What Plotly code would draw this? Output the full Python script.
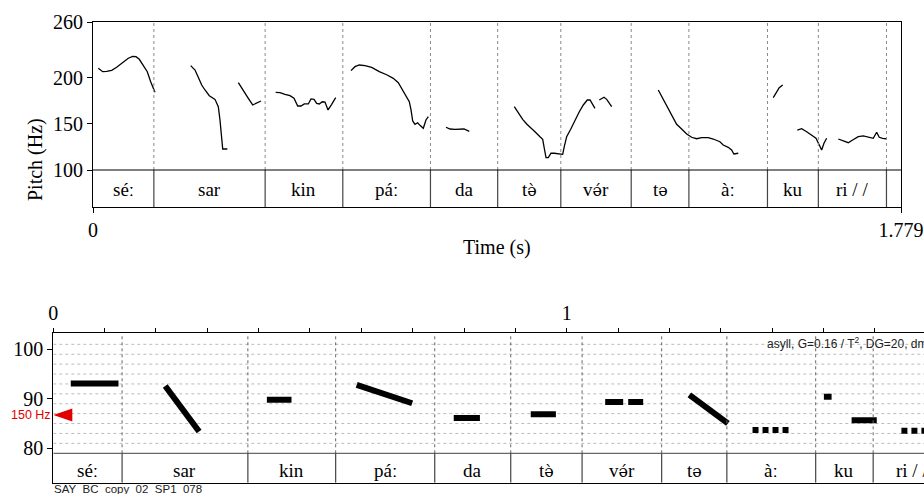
import math
import plotly.graph_objects as go

# ---------------- DATA ----------------
total_dur = 1.779
boundaries = [0.134, 0.379, 0.550, 0.743, 0.891, 1.030, 1.185, 1.312, 1.485, 1.597, 1.747]
syllables = ["séː", "sar", "kin", "páː", "da", "tə̀", "və́r", "tə", "àː", "ku", "ri / /", ""]

# raw F0 contour (Hz), one pair of arrays per voiced stretch
seg1_t = [0.0117, 0.0213, 0.0301, 0.0411, 0.0521, 0.0667, 0.0777, 0.0873, 0.0946, 0.1019, 0.1107, 0.1195, 0.1270, 0.1365]
seg1_hz = [210.0, 206.3, 206.7, 207.8, 211.0, 216.4, 220.8, 222.9, 222.5, 219.7, 213.5, 206.3, 195.5, 184.0]
seg2_t = [0.2151, 0.2246, 0.2318, 0.2393, 0.2466, 0.2561, 0.2686, 0.2759, 0.2796, 0.2834, 0.2856, 0.2958]
seg2_hz = [212.8, 208.1, 200.2, 191.9, 186.5, 180.3, 176.4, 168.4, 154.1, 136.0, 122.7, 122.7]
seg3_t = [0.3200, 0.3273, 0.3347, 0.3420, 0.3516, 0.3604, 0.3699]
seg3_hz = [194.4, 188.3, 183.6, 177.5, 170.3, 172.8, 174.6]
seg4_t = [0.4022, 0.4117, 0.4227, 0.4337, 0.4425, 0.4507, 0.4580, 0.4652, 0.4741, 0.4800, 0.4866,
          0.4925, 0.4982, 0.5049, 0.5108, 0.5174, 0.5255, 0.5343]
seg4_hz = [184.0, 183.6, 181.8, 180.3, 177.5, 169.2, 169.2, 171.4, 171.4, 176.8, 176.4,
           172.1, 171.4, 173.8, 173.5, 164.9, 171.0, 178.2]
seg5_t = [0.5680, 0.5768, 0.5863, 0.5988, 0.6136, 0.6303, 0.6466, 0.6611, 0.6722, 0.6832, 0.6964,
          0.7002, 0.7039, 0.7089, 0.7148, 0.7199, 0.7272, 0.7331, 0.7382]
seg5_hz = [207.4, 211.7, 213.5, 212.8, 211.0, 206.3, 203.0, 199.1, 194.4, 185.7, 173.8,
           164.9, 153.0, 149.4, 151.1, 148.3, 145.1, 154.1, 157.6]
seg6_t = [0.7772, 0.7860, 0.7970, 0.8080, 0.8168, 0.8285]
seg6_hz = [146.2, 144.3, 144.0, 144.3, 144.3, 141.8]
seg7_t = [0.9276, 0.9364, 0.9460, 0.9548, 0.9643, 0.9731, 0.9841, 0.9901, 0.9936, 0.9974, 1.0024,
          1.0084, 1.0156, 1.0244, 1.0341, 1.0376, 1.0429, 1.0517, 1.0612, 1.0707, 1.0795, 1.0883,
          1.0943, 1.1002, 1.1052]
seg7_hz = [168.4, 161.3, 154.8, 149.7, 145.7, 141.4, 136.0, 133.2, 123.5, 113.3, 113.3,
           118.1, 118.1, 117.3, 117.0, 125.2, 136.0, 144.0, 154.1, 163.0, 170.3, 175.7,
           175.7, 171.4, 166.7]
seg8_t = [1.1147, 1.1251, 1.1310, 1.1367, 1.1420]
seg8_hz = [175.7, 178.6, 176.4, 172.1, 168.4]
seg9_t = [1.2446, 1.2556, 1.2666, 1.2776, 1.2850, 1.2960, 1.3071, 1.3181, 1.3291, 1.3401, 1.3546,
          1.3656, 1.3803, 1.3876, 1.3986, 1.4060, 1.4111, 1.4207]
seg9_hz = [186.5, 176.4, 165.9, 154.8, 149.4, 144.3, 138.9, 135.4, 133.8, 134.9, 134.9,
           133.5, 130.6, 127.0, 124.5, 121.6, 117.3, 118.1]
seg10_t = [1.4978, 1.5052, 1.5109, 1.5185]
seg10_hz = [178.2, 184.6, 189.0, 191.9]
seg11_t = [1.5507, 1.5603, 1.5713, 1.5823, 1.5918, 1.5991, 1.6043, 1.6094, 1.6153]
seg11_hz = [143.2, 144.6, 141.4, 137.8, 134.3, 127.0, 121.6, 128.9, 134.3]
seg12_t = [1.6409, 1.6519, 1.6629, 1.6726, 1.6849, 1.6959, 1.7069, 1.7179, 1.7254, 1.7311, 1.7386, 1.7459]
seg12_hz = [133.5, 131.7, 129.5, 132.4, 136.0, 136.8, 135.4, 134.3, 140.8, 135.4, 134.3, 133.8]

# stylised pitch (semitones re 1 Hz)
styl_t_start = [0.034, 0.218, 0.416, 0.591, 0.780, 0.930, 1.075, 1.239, 1.362, 1.501, 1.555, 1.652]
styl_t_end   = [0.127, 0.284, 0.464, 0.699, 0.831, 0.979, 1.149, 1.314, 1.433, 1.516, 1.604, 1.730]
styl_st_start = [93.1, 92.6, 89.8, 92.8, 86.1, 86.9, 89.35, 90.8, 83.7, 90.4, 85.65, 83.55]
styl_st_end   = [93.1, 83.4, 89.8, 89.1, 86.1, 86.9, 89.35, 85.05, 83.7, 90.4, 85.65, 83.55]

ref_hz = 150
param_text = "asyll, G=0.16 / T<sup>2</sup>, DG=20, dmin=0.035"
file_label = "SAY_BC_copy_02_SP1_078"

# ---------------- STYLE / LAYOUT ----------------
W, H = 924, 494
SERIF = "Liberation Serif, Times New Roman, serif"
SANS = "Liberation Sans, Arial, sans-serif"
DASHED_IDX = {6}
DOTTED_IDX = {8, 11}

# top panel geometry (pixels)
T_X0, T_X1, T_Y0, T_Y1 = 93, 901, 22, 207
TOP_YRANGE = [60, 260]
TIER_TOP_SPLIT = 100
TOP_LABEL_Y = 78.4

# bottom panel geometry
B_X0, B_Y0, B_Y1 = 53.3, 333.3, 482.7
B_XRANGE = [0, 1.696]
B_YRANGE = [73.05, 103.23]
TIER_BOT_SPLIT = 78.99
BOT_LABEL_Y = 75.6


def render_label(lab):
    # schwa (with or without combining accent) drawn in a font with proper mark positioning
    out = ""
    i = 0
    while i < len(lab):
        ch = lab[i]
        if ch == "ə":
            cluster = ch
            while i + 1 < len(lab) and 0x0300 <= ord(lab[i + 1]) <= 0x036F:
                i += 1
                cluster += lab[i]
            out += f"<span style='font-family:DejaVu Serif;font-size:16px'>{cluster}</span>"
        else:
            out += ch
        i += 1
    return out


fig = go.Figure()

segs = [(seg1_t, seg1_hz), (seg2_t, seg2_hz), (seg3_t, seg3_hz), (seg4_t, seg4_hz),
        (seg5_t, seg5_hz), (seg6_t, seg6_hz), (seg7_t, seg7_hz), (seg8_t, seg8_hz),
        (seg9_t, seg9_hz), (seg10_t, seg10_hz), (seg11_t, seg11_hz), (seg12_t, seg12_hz)]
cx, cy = [], []
for t, f in segs:
    cx += t + [None]
    cy += f + [None]
fig.add_trace(go.Scatter(x=cx, y=cy, mode="lines", line=dict(color="black", width=1.3),
                         xaxis="x", yaxis="y", showlegend=False, hoverinfo="skip"))

for i in range(len(styl_t_start)):
    dash = "solid"
    if i in DASHED_IDX:
        dash = "18px,5px"
    elif i in DOTTED_IDX:
        dash = "6px,4px"
    fig.add_trace(go.Scatter(x=[styl_t_start[i], styl_t_end[i]], y=[styl_st_start[i], styl_st_end[i]],
                             mode="lines", line=dict(color="black", width=6, dash=dash),
                             xaxis="x2", yaxis="y2", showlegend=False, hoverinfo="skip"))

shapes = []
annotations = []

# interval boundaries
edges = [0] + boundaries + [total_dur]
for b in boundaries:
    shapes.append(dict(type="line", xref="x", yref="y", x0=b, x1=b, y0=TIER_TOP_SPLIT, y1=TOP_YRANGE[1],
                       line=dict(color="#888888", width=1, dash="dot")))
    shapes.append(dict(type="line", xref="x", yref="y", x0=b, x1=b, y0=TOP_YRANGE[0], y1=TIER_TOP_SPLIT,
                       line=dict(color="#444444", width=1.2)))
    shapes.append(dict(type="line", xref="x2", yref="y2", x0=b, x1=b, y0=TIER_BOT_SPLIT, y1=B_YRANGE[1],
                       line=dict(color="#666666", width=1, dash="dot")))
    shapes.append(dict(type="line", xref="x2", yref="y2", x0=b, x1=b, y0=B_YRANGE[0], y1=TIER_BOT_SPLIT,
                       line=dict(color="#444444", width=1.2)))

shapes.append(dict(type="line", xref="x", yref="y", x0=0, x1=total_dur, y0=TIER_TOP_SPLIT, y1=TIER_TOP_SPLIT,
                   line=dict(color="black", width=1)))
shapes.append(dict(type="line", xref="x2", yref="y2", x0=0, x1=B_XRANGE[1], y0=TIER_BOT_SPLIT, y1=TIER_BOT_SPLIT,
                   line=dict(color="#444444", width=1)))

# semitone grid (odd semitones)
for s in range(81, 103, 2):
    shapes.append(dict(type="line", xref="x2", yref="y2", x0=0, x1=B_XRANGE[1], y0=s, y1=s,
                       line=dict(color="#bbbbbb", width=1, dash="dot"), layer="below"))

# tier labels
for i, lab in enumerate(syllables):
    if not lab:
        continue
    c = (edges[i] + edges[i + 1]) / 2
    txt = render_label(lab)
    annotations.append(dict(x=c, y=TOP_LABEL_Y, xref="x", yref="y", text=txt, showarrow=False,
                            font=dict(family=SERIF, size=19, color="black")))
    annotations.append(dict(x=c, y=BOT_LABEL_Y, xref="x2", yref="y2", text=txt, showarrow=False,
                            font=dict(family=SERIF, size=19, color="black"), xanchor="center"))

# 150 Hz reference marker
ref_st = 12 * math.log2(ref_hz)
tri_w = 19 / 513.4
tri_h = 6.5 / 4.95
shapes.append(dict(type="path", xref="x2", yref="y2",
                   path=f"M 0,{ref_st} L {tri_w},{ref_st + tri_h} L {tri_w},{ref_st - tri_h} Z",
                   fillcolor="#e00000", line=dict(color="#e00000", width=0)))
annotations.append(dict(x=0, y=ref_st, xref="x2", yref="y2", text=f"{ref_hz} Hz", showarrow=False,
                        xanchor="right", xshift=0, font=dict(family=SANS, size=12.5, color="#e00000")))

annotations.append(dict(x=(765 - B_X0) / 513.4, y=101.3, xref="x2", yref="y2", text=param_text,
                        showarrow=False, xanchor="left", yanchor="middle",
                        font=dict(family=SANS, size=12, color="#222222")))
annotations.append(dict(x=B_X0 / W, y=0, xref="paper", yref="paper", text=file_label,
                        showarrow=False, xanchor="left", yanchor="bottom", borderpad=0, yshift=-2,
                        font=dict(family=SANS, size=11.5, color="#222222")))

annotations.append(dict(x=22 / W, y=1 - 116 / H, xref="paper", yref="paper", text="Pitch (Hz)",
                        showarrow=False, textangle=-90, font=dict(family=SERIF, size=20, color="black")))
annotations.append(dict(x=497 / W, y=1 - 248 / H, xref="paper", yref="paper", text="Time (s)",
                        showarrow=False, font=dict(family=SERIF, size=20, color="black")))

fig.update_layout(
    width=W, height=H, margin=dict(l=0, r=0, t=0, b=0, pad=0, autoexpand=False),
    paper_bgcolor="white", plot_bgcolor="white", showlegend=False,
    xaxis=dict(domain=[T_X0 / W, T_X1 / W], anchor="y", range=[0, total_dur], automargin=False,
               showline=True, mirror=True, linecolor="black", linewidth=1,
               ticks="outside", ticklen=5, tickcolor="black", tickvals=[0, total_dur],
               ticktext=["0", "1.779"], showgrid=False, zeroline=False,
               tickfont=dict(family=SERIF, size=20, color="black")),
    yaxis=dict(domain=[1 - T_Y1 / H, 1 - T_Y0 / H], anchor="x", range=TOP_YRANGE, automargin=False,
               showline=True, mirror=True, linecolor="black", linewidth=1,
               ticks="outside", ticklen=5, tickcolor="black", tickvals=[100, 150, 200, 260],
               showgrid=False, zeroline=False,
               tickfont=dict(family=SERIF, size=20, color="black")),
    xaxis2=dict(domain=[B_X0 / W, 1], anchor="y2", side="top", range=B_XRANGE, automargin=False,
                showline=True, mirror=True, linecolor="black", linewidth=1.3,
                ticks="outside", ticklen=4, tickcolor="black", tickvals=[0, 1],
                minor=dict(tick0=0, dtick=0.1, ticks="outside", ticklen=4, tickcolor="black", showgrid=False),
                showgrid=False, zeroline=False,
                tickfont=dict(family=SERIF, size=20, color="black")),
    yaxis2=dict(domain=[1 - B_Y1 / H, 1 - B_Y0 / H], anchor="x2", range=B_YRANGE, automargin=False,
                showline=True, linecolor="black", linewidth=1.3,
                ticks="outside", ticklen=5, tickcolor="black", tickvals=[80, 90, 100],
                showgrid=False, zeroline=False,
                tickfont=dict(family=SERIF, size=20, color="black")),
    shapes=shapes, annotations=annotations,
)

fig.write_html("out.html", config={"displayModeBar": False},
               post_script="document.body.style.margin='0px';document.body.style.overflow='hidden';")
